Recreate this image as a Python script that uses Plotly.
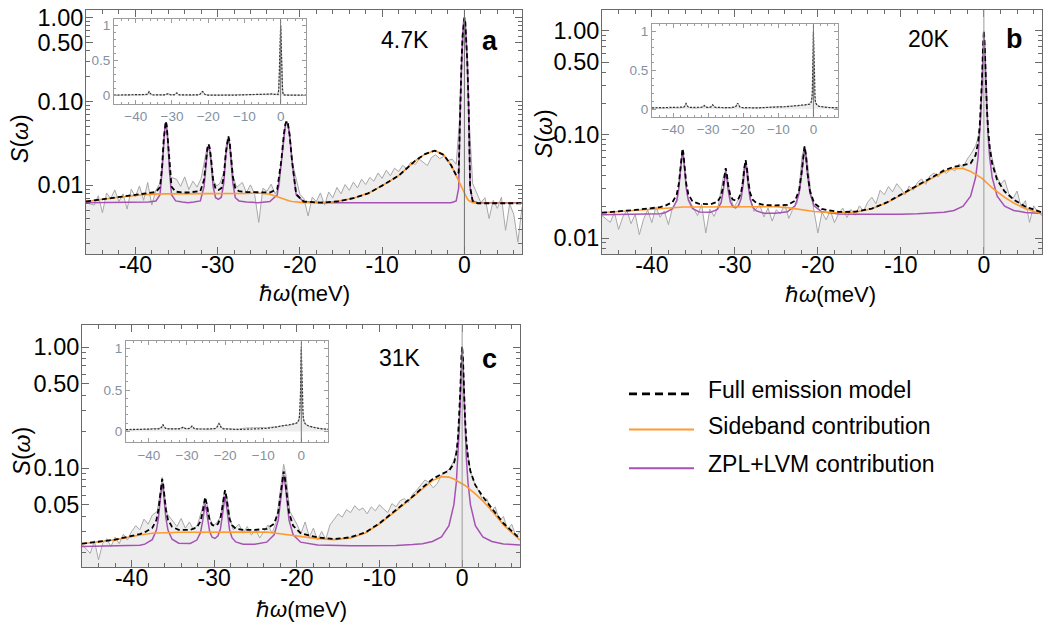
import plotly.graph_objects as go

# ---------------- data ----------------
energy_model = [-46, -42, -39,
                -38.4, -37.5, -37.0, -36.75, -36.55, -36.4, -36.3, -36.2, -36.05, -35.85, -35.6, -35.1, -34.3,
                -33.6, -32.9, -32.1, -31.65, -31.4, -31.25, -31.1, -30.95, -30.8, -30.55, -30.25, -29.9,
                -29.55, -29.25, -29.0, -28.85, -28.7, -28.55, -28.4, -28.15, -27.85, -27.4, -26.5, -25.1,
                -23.65, -22.75, -22.25, -21.95, -21.75, -21.6, -21.45, -21.25, -20.95, -20.45, -19.55,
                -17.5, -15.5, -13.5, -11.7, -10.0, -8.0, -6.0, -4.8, -3.6, -2.5, -1.6,
                -1.0, -0.7, -0.5, -0.35, -0.22, -0.1, 0.0, 0.1, 0.22, 0.35, 0.5, 0.7, 1.0,
                1.6, 2.5, 3.6, 5.0, 7.0]

energy_data = [-46, -45, -44.5, -44, -43.5, -43, -42.5, -42, -41.5, -41, -40.5, -40, -39.5, -39, -38.5, -38, -37.5,
               -36.9, -36.55, -36.3, -36.05, -35.7,
               -35, -34.5, -34, -33.5, -33, -32.5, -32,
               -31.35, -31.1, -30.85, -30.5, -30.1, -29.7,
               -29.2, -28.95, -28.7, -28.45, -28.1, -27.7,
               -27, -26.5, -26, -25.5, -25, -24.5, -24, -23.5, -23, -22.5,
               -22.25, -21.9, -21.6, -21.3, -20.85,
               -20, -19.5, -19, -18.5, -18, -17.5, -17, -16.5, -16, -15.5, -15, -14.5, -14, -13.5, -13, -12.5,
               -12, -11.5, -11, -10.5,
               -10, -9.5, -9, -8.5, -8, -7.5, -7, -6.5, -6, -5.5, -5, -4.5, -4, -3.5, -3, -2.5, -2, -1.5, -1,
               -0.6, -0.3, 0, 0.3, 0.6,
               1, 1.5, 2, 2.5, 3, 3.5, 4, 4.5, 5, 5.5, 6, 6.5, 7]

# ---- 4.7 K ----
data_4K = [0.0062, 0.0058, 0.0075, 0.0047, 0.0081, 0.0069, 0.0088, 0.0064, 0.0079, 0.0052, 0.0090, 0.0073, 0.0098, 0.0066, 0.0108, 0.0058, 0.0087,
           0.0110, 0.036, 0.056, 0.037, 0.0125,
           0.0118, 0.0097, 0.0126, 0.0089, 0.0112, 0.0095, 0.0121,
           0.026, 0.030, 0.024, 0.0112, 0.0098, 0.0106,
           0.0150, 0.030, 0.037, 0.029, 0.0125, 0.0094,
           0.0108, 0.0082, 0.0101, 0.0078, 0.0036, 0.0092, 0.0085, 0.0103, 0.0079, 0.0096,
           0.019, 0.045, 0.058, 0.046, 0.0175,
           0.0078, 0.0069, 0.0043, 0.0072, 0.0064, 0.0081, 0.0058, 0.0083, 0.0071, 0.0094, 0.0079, 0.0102, 0.0087, 0.0109, 0.0093, 0.0118,
           0.0102, 0.0124, 0.0112, 0.0140,
           0.0121, 0.0151, 0.0130, 0.0160, 0.0146, 0.0172, 0.0158, 0.0190, 0.0176, 0.0205, 0.0186, 0.0172, 0.0215, 0.0231, 0.0208, 0.0222, 0.0197, 0.0205, 0.0178,
           0.060, 0.36, 0.98, 0.36, 0.055,
           0.0105, 0.0082, 0.0062, 0.0071, 0.0040, 0.0066, 0.0053, 0.0072, 0.0029, 0.0060, 0.0045, 0.0021, 0.0055]
full_4K = [0.0064, 0.0072, 0.0078,
           0.0080, 0.0083, 0.0095, 0.0165, 0.0356, 0.0530, 0.0578, 0.0530, 0.0356, 0.0166, 0.0096, 0.0084, 0.0082,
           0.0082, 0.0083, 0.0085, 0.0116, 0.0207, 0.0276, 0.0310, 0.0276, 0.0208, 0.0117, 0.0091, 0.0088,
           0.0092, 0.0127, 0.0247, 0.0337, 0.0384, 0.0337, 0.0247, 0.0127, 0.0091, 0.0085, 0.0083, 0.0083,
           0.0082, 0.0090, 0.0200, 0.0404, 0.0542, 0.0582, 0.0541, 0.0401, 0.0193, 0.0078, 0.0064,
           0.0062, 0.0064, 0.0070, 0.0080, 0.0099, 0.0130, 0.0195, 0.0235, 0.0259, 0.0230, 0.0172,
           0.0131, 0.0142, 0.0996, 0.307, 0.605, 0.903, 1.0, 0.902, 0.603, 0.305, 0.0961, 0.0094, 0.0065,
           0.0061, 0.0061, 0.0061, 0.0061, 0.0061]
side_4K = [0.0064, 0.0072, 0.0077,
           0.0078, 0.0079, 0.0079, 0.0079, 0.0079, 0.0079, 0.0079, 0.0079, 0.0079, 0.0079, 0.0079, 0.0079, 0.0080,
           0.0080, 0.0080, 0.0080, 0.0080, 0.0080, 0.0080, 0.0080, 0.0080, 0.0080, 0.0080, 0.0080, 0.0080,
           0.0080, 0.0080, 0.0080, 0.0080, 0.0080, 0.0080, 0.0080, 0.0080, 0.0080, 0.0080, 0.0080, 0.0081,
           0.0078, 0.0073, 0.0070, 0.0068, 0.0067, 0.0066, 0.0066, 0.0065, 0.0064, 0.0063, 0.0062,
           0.0062, 0.0064, 0.0070, 0.0080, 0.0099, 0.0130, 0.0195, 0.0235, 0.0259, 0.0230, 0.0172,
           0.0128, 0.0112, 0.0101, 0.0094, 0.0088, 0.0083, 0.0079, 0.0076, 0.0072, 0.0069, 0.0066, 0.0064, 0.0062,
           0.0061, 0.0061, 0.0061, 0.0061, 0.0061]
zpl_4K = [0.0062, 0.0062, 0.0062,
          0.0063, 0.0065, 0.0077, 0.0147, 0.0337, 0.0512, 0.0560, 0.0512, 0.0337, 0.0147, 0.0077, 0.0065, 0.0063,
          0.0062, 0.0063, 0.0065, 0.0096, 0.0187, 0.0256, 0.0290, 0.0256, 0.0188, 0.0097, 0.0071, 0.0068,
          0.0072, 0.0107, 0.0227, 0.0317, 0.0364, 0.0317, 0.0227, 0.0107, 0.0071, 0.0065, 0.0063, 0.0062,
          0.0064, 0.0077, 0.0191, 0.0397, 0.0536, 0.0577, 0.0536, 0.0397, 0.0191, 0.0077, 0.0064,
          0.0062, 0.0062, 0.0062, 0.0062, 0.0062, 0.0062, 0.0062, 0.0062, 0.0062, 0.0062, 0.0062,
          0.0065, 0.0092, 0.0957, 0.304, 0.602, 0.9006, 1.0, 0.9006, 0.602, 0.304, 0.0957, 0.0092, 0.0065,
          0.0062, 0.0062, 0.0062, 0.0062, 0.0062]

# ---- 20 K ----
data_20K = [0.0165, 0.0142, 0.0178, 0.0121, 0.0160, 0.0185, 0.0138, 0.0170, 0.0108, 0.0152, 0.0187, 0.0141, 0.0200, 0.0159, 0.0183, 0.0135, 0.0198,
            0.0230, 0.048, 0.070, 0.047, 0.0250,
            0.0196, 0.0165, 0.0212, 0.0112, 0.0190, 0.0162, 0.0205,
            0.040, 0.045, 0.037, 0.0240, 0.0198, 0.0225,
            0.0280, 0.047, 0.055, 0.046, 0.0240, 0.0181,
            0.0209, 0.0160, 0.0195, 0.0146, 0.0188, 0.0171, 0.0213, 0.0155, 0.0192, 0.0218,
            0.030, 0.062, 0.077, 0.058, 0.0280,
            0.0112, 0.0178, 0.0150, 0.0186, 0.0141, 0.0172, 0.0195, 0.0158, 0.0189, 0.0166, 0.0205, 0.0183, 0.0222, 0.0248, 0.0215, 0.0290,
            0.0262, 0.0315, 0.0280, 0.0335,
            0.0300, 0.0262, 0.0318, 0.0290, 0.0345, 0.0372, 0.0330, 0.0398, 0.0425, 0.0390, 0.0455, 0.0420, 0.0470, 0.0445, 0.0520, 0.0480, 0.0580, 0.0660, 0.0780,
            0.098, 0.21, 0.99, 0.20, 0.088,
            0.058, 0.041, 0.0330, 0.0365, 0.0270, 0.0240, 0.0285, 0.0198, 0.0230, 0.0142, 0.0205, 0.0178, 0.0165]
full_20K = [0.0176, 0.0187, 0.0199,
            0.0205, 0.0223, 0.0264, 0.0333, 0.0476, 0.0662, 0.0730, 0.0662, 0.0476, 0.0334, 0.0265, 0.0226, 0.0214,
            0.0212, 0.0213, 0.0224, 0.0255, 0.0321, 0.0407, 0.0473, 0.0409, 0.0323, 0.0259, 0.0236, 0.0231,
            0.0241, 0.0274, 0.0361, 0.0476, 0.0566, 0.0475, 0.0360, 0.0272, 0.0235, 0.0218, 0.0209, 0.0207,
            0.0209, 0.0229, 0.0291, 0.0434, 0.0651, 0.0766, 0.0649, 0.0430, 0.0285, 0.0218, 0.0191,
            0.0179, 0.0180, 0.0193, 0.0221, 0.0262, 0.0324, 0.0396, 0.0450, 0.0489, 0.0505, 0.0526,
            0.0631, 0.0832, 0.1204, 0.1905, 0.349, 0.717, 1.0, 0.716, 0.346, 0.1865, 0.1147, 0.0754, 0.0521,
            0.0364, 0.0282, 0.0235, 0.0201, 0.0177]
side_20K = [0.0176, 0.0186, 0.0195,
            0.0197, 0.0199, 0.0200, 0.0200, 0.0200, 0.0200, 0.0200, 0.0200, 0.0200, 0.0200, 0.0200, 0.0201, 0.0203,
            0.0203, 0.0203, 0.0203, 0.0203, 0.0203, 0.0203, 0.0203, 0.0203, 0.0203, 0.0203, 0.0203, 0.0203,
            0.0203, 0.0203, 0.0203, 0.0203, 0.0203, 0.0203, 0.0203, 0.0203, 0.0203, 0.0203, 0.0203, 0.0201,
            0.0197, 0.0192, 0.0189, 0.0188, 0.0187, 0.0186, 0.0185, 0.0184, 0.0183, 0.0181, 0.0179,
            0.0176, 0.0178, 0.0192, 0.0219, 0.0260, 0.0320, 0.0390, 0.0440, 0.0472, 0.0470, 0.0440,
            0.0415, 0.0400, 0.0392, 0.0383, 0.0377, 0.0370, 0.0365, 0.0358, 0.0351, 0.0343, 0.0335, 0.0322, 0.0305,
            0.0278, 0.0247, 0.0218, 0.0192, 0.0172]
zpl_20K = [0.0168, 0.0169, 0.0172,
           0.0176, 0.0192, 0.0232, 0.0301, 0.0444, 0.0630, 0.0698, 0.0630, 0.0444, 0.0302, 0.0233, 0.0193, 0.0179,
           0.0177, 0.0178, 0.0189, 0.0220, 0.0286, 0.0372, 0.0438, 0.0374, 0.0288, 0.0224, 0.0201, 0.0196,
           0.0206, 0.0239, 0.0326, 0.0441, 0.0531, 0.0440, 0.0325, 0.0237, 0.0200, 0.0183, 0.0174, 0.0174,
           0.0180, 0.0205, 0.0270, 0.0414, 0.0632, 0.0748, 0.0632, 0.0414, 0.0270, 0.0205, 0.0180,
           0.0171, 0.0170, 0.0169, 0.0170, 0.0170, 0.0172, 0.0174, 0.0178, 0.0185, 0.0203, 0.0254,
           0.0384, 0.0600, 0.0980, 0.169, 0.328, 0.697, 0.98, 0.697, 0.328, 0.169, 0.0980, 0.0600, 0.0384,
           0.0254, 0.0203, 0.0185, 0.0177, 0.0173]

# ---- 31 K ----
data_31K = [0.0235, 0.0198, 0.0252, 0.0175, 0.0240, 0.0262, 0.0225, 0.0270, 0.0238, 0.0285, 0.0255, 0.0300, 0.0335, 0.0310, 0.0380, 0.0345, 0.0410,
            0.0440, 0.062, 0.084, 0.063, 0.0420,
            0.0365, 0.0330, 0.0385, 0.0320, 0.0360, 0.0310, 0.0345,
            0.048, 0.056, 0.050, 0.0380, 0.0335, 0.0355,
            0.0400, 0.055, 0.066, 0.058, 0.0390, 0.0310,
            0.0345, 0.0290, 0.0330, 0.0280, 0.0315, 0.0265, 0.0300, 0.0340, 0.0290, 0.0360,
            0.0480, 0.078, 0.108, 0.086, 0.0440,
            0.0345, 0.0290, 0.0360, 0.0270, 0.0320, 0.0255, 0.0300, 0.0258, 0.0340, 0.0380, 0.0420, 0.0395, 0.0455, 0.0430, 0.0490, 0.0450,
            0.0470, 0.0420, 0.0480, 0.0445,
            0.0500, 0.0460, 0.0430, 0.0510, 0.0480, 0.0540, 0.0560, 0.0520, 0.0610, 0.0660, 0.0720, 0.0800, 0.0760, 0.0690, 0.0750, 0.0880, 0.0920, 0.1000, 0.1150,
            0.150, 0.30, 1.0, 0.28, 0.145,
            0.095, 0.075, 0.065, 0.0540, 0.0560, 0.0440, 0.0480, 0.0370, 0.0400, 0.0310, 0.0345, 0.0275, 0.0300]
full_31K = [0.0238, 0.0257, 0.0286,
            0.0296, 0.0321, 0.0373, 0.0454, 0.0602, 0.0765, 0.0817, 0.0765, 0.0602, 0.0455, 0.0375, 0.0328, 0.0310,
            0.0308, 0.0309, 0.0325, 0.0365, 0.0437, 0.0521, 0.0576, 0.0522, 0.0441, 0.0369, 0.0340, 0.0334,
            0.0347, 0.0386, 0.0482, 0.0589, 0.0660, 0.0587, 0.0480, 0.0382, 0.0338, 0.0317, 0.0309, 0.0309,
            0.0316, 0.0348, 0.0436, 0.0614, 0.0839, 0.0939, 0.0837, 0.0610, 0.0428, 0.0334, 0.0291,
            0.0268, 0.0260, 0.0269, 0.0295, 0.0351, 0.0449, 0.0583, 0.0692, 0.0812, 0.0895, 0.0954,
            0.1090, 0.1339, 0.1794, 0.2636, 0.4417, 0.8009, 1.02, 0.7994, 0.4385, 0.2585, 0.1720, 0.1236, 0.0942,
            0.0724, 0.0582, 0.0467, 0.0351, 0.0261]
side_31K = [0.0238, 0.0256, 0.0281,
            0.0286, 0.0290, 0.0292, 0.0293, 0.0293, 0.0293, 0.0293, 0.0293, 0.0293, 0.0293, 0.0293, 0.0295, 0.0296,
            0.0296, 0.0296, 0.0296, 0.0296, 0.0296, 0.0296, 0.0296, 0.0297, 0.0297, 0.0297, 0.0297, 0.0297,
            0.0297, 0.0297, 0.0297, 0.0297, 0.0297, 0.0297, 0.0297, 0.0297, 0.0297, 0.0297, 0.0299, 0.0300,
            0.0297, 0.0292, 0.0289, 0.0287, 0.0286, 0.0285, 0.0284, 0.0283, 0.0281, 0.0278, 0.0272,
            0.0262, 0.0257, 0.0266, 0.0292, 0.0348, 0.0445, 0.0575, 0.0680, 0.0790, 0.0850, 0.0845,
            0.0815, 0.0795, 0.0782, 0.0772, 0.0763, 0.0755, 0.0748, 0.0740, 0.0731, 0.0721, 0.0708, 0.0692, 0.0667,
            0.0615, 0.0537, 0.0445, 0.0340, 0.0255]
zpl_31K = [0.0226, 0.0227, 0.0231,
           0.0236, 0.0257, 0.0307, 0.0387, 0.0535, 0.0698, 0.0750, 0.0698, 0.0535, 0.0388, 0.0308, 0.0259, 0.0240,
           0.0238, 0.0239, 0.0255, 0.0295, 0.0367, 0.0450, 0.0505, 0.0451, 0.0370, 0.0298, 0.0269, 0.0263,
           0.0276, 0.0315, 0.0411, 0.0518, 0.0589, 0.0516, 0.0409, 0.0311, 0.0267, 0.0246, 0.0236, 0.0235,
           0.0245, 0.0282, 0.0373, 0.0553, 0.0779, 0.0880, 0.0779, 0.0553, 0.0373, 0.0282, 0.0245,
           0.0232, 0.0229, 0.0229, 0.0229, 0.0229, 0.0230, 0.0234, 0.0238, 0.0248, 0.0271, 0.0335,
           0.0501, 0.0770, 0.1238, 0.209, 0.388, 0.748, 0.98, 0.748, 0.388, 0.209, 0.1238, 0.0770, 0.0501,
           0.0335, 0.0271, 0.0248, 0.0237, 0.0232]

x_ticks = [-40, -30, -20, -10, 0]
x_ticktext = ["-40", "-30", "-20", "-10", "0"]
inset_ticktext = ["\u221240", "\u221230", "\u221220", "\u221210", "0"]
legend_labels = ["Full emission model", "Sideband contribution", "ZPL+LVM contribution"]

# ---------------- styling ----------------
W, H = 1043, 628
FONT = "Arial, Liberation Sans, sans-serif"
ORANGE = "#FF9A2E"
PURPLE = "#A652B4"
GREY = "#A8A8A8"
FILL = "#EDEDED"
FRAME = "#6A6A6A"

def fx(p):
    return p / W

def fy(p):
    return 1 - p / H

panels = [
    dict(data=data_4K, full=full_4K, side=side_4K, zpl=zpl_4K,
         box=(86, 522, 5, 251), yr=(-2.820, 0.091),
         ytv=[0.01, 0.1, 0.5, 1.0], ytt=["0.01", "0.10", "0.50", "1.00"],
         ibox=(114, 306, 14.5, 99.5), iyr=(-0.116, 1.088),
         temp="4.7K", tpos=(405, 35), letter="a", lpos=(490, 36),
         ylab=(20, 135), xlab=(304, 291), zcol="#6f6f6f"),
    dict(data=data_20K, full=full_20K, side=side_20K, zpl=zpl_20K,
         box=(602, 1042, 5, 251), yr=(-2.153, 0.201),
         ytv=[0.01, 0.1, 0.5, 1.0], ytt=["0.01", "0.10", "0.50", "1.00"],
         ibox=(652, 838, 19.5, 112.7), iyr=(-0.098, 1.092),
         temp="20K", tpos=(929, 34), letter="b", lpos=(1014, 34),
         ylab=(544, 130), xlab=(830, 292), zcol="#9a9a9a"),
    dict(data=data_31K, full=full_31K, side=side_31K, zpl=zpl_31K,
         box=(82, 520, 323, 567), yr=(-1.820, 0.180),
         ytv=[0.05, 0.1, 0.5, 1.0], ytt=["0.05", "0.10", "0.50", "1.00"],
         ibox=(126, 328, 339, 441), iyr=(-0.132, 1.089),
         temp="31K", tpos=(400, 356), letter="c", lpos=(489, 357),
         ylab=(22, 450), xlab=(301, 609), zcol="#9a9a9a"),
]

minor_x = [v for v in range(-44, 7, 2) if v % 10 != 0]
log_minor = [m * 10.0 ** e for e in (-3, -2, -1) for m in range(2, 10)]

fig = go.Figure()
layout = dict(width=W, height=H, margin=dict(l=0, r=0, t=0, b=0),
              paper_bgcolor="white", plot_bgcolor="rgba(0,0,0,0)",
              showlegend=False, font=dict(family=FONT, color="black"))
annotations = []
shapes = []

for i, p in enumerate(panels):
    n_main = i + 1
    n_ins = i + 4
    xm, ym = ("x" if n_main == 1 else "x%d" % n_main), ("y" if n_main == 1 else "y%d" % n_main)
    xi, yi = "x%d" % n_ins, "y%d" % n_ins
    x0, x1, y0, y1 = p["box"]
    # main: experimental data with fill
    fig.add_trace(go.Scatter(x=energy_data, y=p["data"], mode="lines", xaxis=xm, yaxis=ym,
                             line=dict(color=GREY, width=1), fill="tozeroy", fillcolor=FILL))
    fig.add_trace(go.Scatter(x=energy_model, y=p["zpl"], mode="lines", xaxis=xm, yaxis=ym,
                             line=dict(color=PURPLE, width=1.5)))
    fig.add_trace(go.Scatter(x=energy_model, y=p["side"], mode="lines", xaxis=xm, yaxis=ym,
                             line=dict(color=ORANGE, width=1.6)))
    fig.add_trace(go.Scatter(x=energy_model, y=p["full"], mode="lines", xaxis=xm, yaxis=ym,
                             line=dict(color="black", width=1.8, dash="5px,3px")))
    # inset: linear scale
    fig.add_trace(go.Scatter(x=energy_data, y=p["data"], mode="lines", xaxis=xi, yaxis=yi,
                             line=dict(color="#b5b5b5", width=1), fill="tozeroy", fillcolor=FILL))
    fig.add_trace(go.Scatter(x=energy_model, y=p["full"], mode="lines", xaxis=xi, yaxis=yi,
                             line=dict(color="#333333", width=1.2, dash="2px,1.5px")))

    mkey = "" if n_main == 1 else str(n_main)
    ymin = [v for v in log_minor if v not in p["ytv"]]
    layout["xaxis" + mkey] = dict(
        domain=[fx(x0), fx(x1)], range=[-46, 7], anchor=ym, showline=True, linecolor=FRAME,
        linewidth=1, mirror="ticks", ticks="inside", ticklen=7, tickwidth=1, tickcolor=FRAME,
        tickmode="array", tickvals=x_ticks, ticktext=x_ticktext, showgrid=False, zeroline=False,
        tickfont=dict(size=23, color="black", family=FONT), ticklabelstandoff=-10,
        ticklabeloverflow="allow",
        minor=dict(tickmode="array", tickvals=minor_x, ticks="inside", ticklen=4,
                   tickcolor=FRAME, showgrid=False))
    layout["yaxis" + mkey] = dict(
        domain=[fy(y1), fy(y0)], type="log", range=list(p["yr"]), anchor=xm, showline=True,
        linecolor=FRAME, linewidth=1, mirror="ticks", ticks="inside", ticklen=7, tickcolor=FRAME,
        tickmode="array", tickvals=p["ytv"], ticktext=p["ytt"], showgrid=False, zeroline=False,
        tickfont=dict(size=23.5, color="black", family=FONT), ticklabelstandoff=-3,
        ticklabeloverflow="allow",
        minor=dict(tickmode="array", tickvals=ymin, ticks="inside", ticklen=4,
                   tickcolor=FRAME, showgrid=False))
    ix0, ix1, iy0, iy1 = p["ibox"]
    layout["xaxis%d" % n_ins] = dict(
        domain=[fx(ix0), fx(ix1)], range=[-46, 7], anchor=yi, showline=True, linecolor="#9c9c9c",
        linewidth=1, mirror="ticks", ticks="inside", ticklen=4, tickcolor="#9c9c9c",
        tickmode="array", tickvals=x_ticks, ticktext=inset_ticktext, showgrid=False, zeroline=False,
        tickfont=dict(size=13.5, color="#8391a4", family=FONT), ticklabelstandoff=0,
        minor=dict(tickmode="array", tickvals=minor_x, ticks="inside", ticklen=2,
                   tickcolor="#9c9c9c", showgrid=False))
    layout["yaxis%d" % n_ins] = dict(
        domain=[fy(iy1), fy(iy0)], range=list(p["iyr"]), anchor=xi, showline=True,
        linecolor="#9c9c9c", linewidth=1, mirror="ticks", ticks="inside", ticklen=4,
        tickcolor="#9c9c9c", tickmode="array", tickvals=[0, 0.5, 1], ticktext=["0", "0.5", "1"],
        showgrid=False, zeroline=False, tickfont=dict(size=13.5, color="#8391a4", family=FONT),
        ticklabelstandoff=0,
        minor=dict(tickmode="array", tickvals=[0.1, 0.2, 0.3, 0.4, 0.6, 0.7, 0.8, 0.9],
                   ticks="inside", ticklen=2, tickcolor="#9c9c9c", showgrid=False))
    # zero-energy reference lines
    shapes.append(dict(type="line", xref=xm, yref=ym + " domain", x0=0, x1=0, y0=0, y1=1,
                       line=dict(color=p["zcol"], width=1), layer="above"))
    shapes.append(dict(type="line", xref=xi, yref=yi + " domain", x0=0, x1=0, y0=0, y1=1,
                       line=dict(color="#777777", width=1), layer="above"))
    # texts
    annotations.append(dict(text=p["temp"], x=fx(p["tpos"][0]), y=fy(p["tpos"][1]), xref="paper",
                            yref="paper", showarrow=False, xanchor="center", yanchor="middle",
                            font=dict(size=23, family=FONT)))
    annotations.append(dict(text="<b>%s</b>" % p["letter"], x=fx(p["lpos"][0]), y=fy(p["lpos"][1]),
                            xref="paper", yref="paper", showarrow=False, xanchor="center",
                            yanchor="middle", font=dict(size=27, family=FONT)))
    annotations.append(dict(text="<i>S</i>(<i>\u03c9</i>)", x=fx(p["ylab"][0]), y=fy(p["ylab"][1]),
                            xref="paper", yref="paper", showarrow=False, textangle=-90,
                            xanchor="center", yanchor="middle", font=dict(size=23, family=FONT)))
    annotations.append(dict(text="\u210f<i>\u03c9</i>(meV)", x=fx(p["xlab"][0]), y=fy(p["xlab"][1]),
                            xref="paper", yref="paper", showarrow=False, xanchor="center",
                            yanchor="middle", font=dict(size=22, family=FONT)))

# legend (drawn manually to match the reference layout)
leg_y = [392, 428, 467]
leg_styles = [dict(color="black", width=2.6, dash="8px,5px"),
              dict(color=ORANGE, width=2), dict(color=PURPLE, width=2)]
for ly, lab, st in zip(leg_y, legend_labels, leg_styles):
    shapes.append(dict(type="line", xref="paper", yref="paper", x0=fx(629), x1=fx(694),
                       y0=fy(ly), y1=fy(ly), line=st))
    annotations.append(dict(text=lab, x=fx(706), y=fy(ly - 4), xref="paper", yref="paper",
                            showarrow=False, xanchor="left", yanchor="middle",
                            font=dict(size=23, family=FONT)))

layout["annotations"] = annotations
layout["shapes"] = shapes
fig.update_layout(**layout)
fig.write_html("out.html", config={"displayModeBar": False},
               post_script="document.body.style.margin='0';document.body.style.padding='0';")
